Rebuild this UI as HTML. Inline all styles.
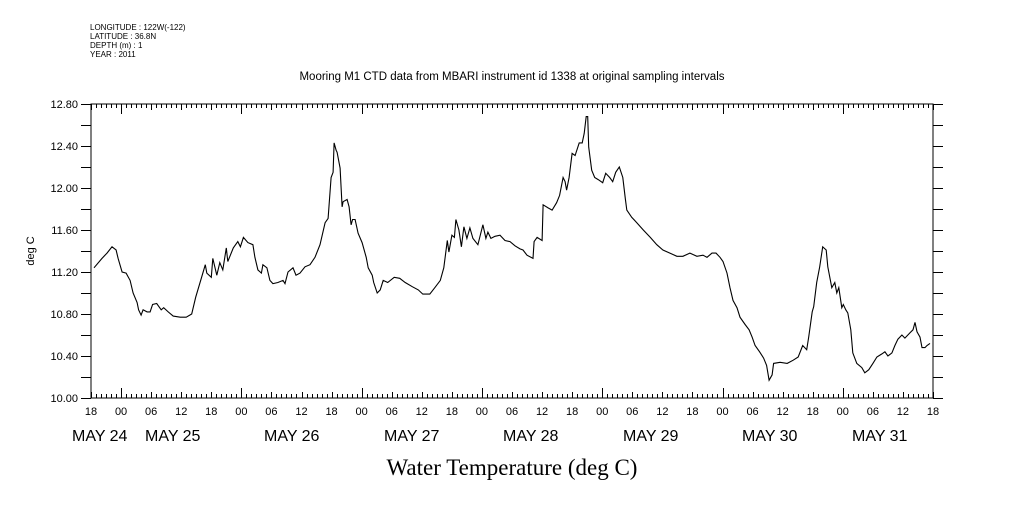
<!DOCTYPE html>
<html><head><meta charset="utf-8"><style>
html,body{margin:0;padding:0;background:#fff;}
svg text{font-family:"Liberation Sans",sans-serif;fill:#000;}
</style></head><body>
<svg id="chart" width="1009" height="504" viewBox="0 0 1009 504" xmlns="http://www.w3.org/2000/svg">
<g font-size="8">
<text x="90" y="30" font-size="8">LONGITUDE : 122W(-122)</text>
<text x="90" y="39" font-size="8">LATITUDE : 36.8N</text>
<text x="90" y="48" font-size="8">DEPTH (m) : 1</text>
<text x="90" y="57" font-size="8">YEAR : 2011</text>
</g>
<text x="512" y="80" font-size="11.5" text-anchor="middle">Mooring M1 CTD data from MBARI instrument id 1338 at original sampling intervals</text>
<text transform="translate(34,251) rotate(-90)" font-size="11" text-anchor="middle">deg C</text>
<text x="512" y="475" font-size="23" text-anchor="middle" style="font-family:'Liberation Serif',serif">Water Temperature (deg C)</text>
<rect x="91" y="104" width="842" height="294" fill="none" stroke="#000" stroke-width="1"/>
<g id="axes"></g>
<g id="series"></g>
</svg>
<script>
const hours=[0.6,2.2,3.2,4.2,5.0,5.4,6.2,7.0,7.8,8.4,9.2,9.5,10.0,10.4,11.2,11.8,12.3,13.1,14.0,14.5,15.4,16.4,17.8,19.0,20.1,20.9,22.0,22.8,23.1,24.0,24.3,25.1,25.7,26.3,27.0,27.3,28.4,29.3,29.8,30.4,31.3,32.3,32.7,33.3,34.0,34.3,35.1,35.7,36.3,37.3,38.3,38.7,39.3,40.3,40.9,41.7,42.7,43.7,44.7,45.7,46.7,47.3,47.9,48.3,48.5,48.9,49.1,49.7,50.1,50.3,51.1,51.5,51.9,52.2,52.7,53.3,54.1,54.9,55.3,56.1,56.4,57.1,57.7,58.3,59.2,60.5,61.6,62.7,64.1,65.3,66.2,67.6,68.6,69.7,70.4,71.1,71.4,72.0,72.5,72.8,73.4,73.9,74.4,75.0,75.6,76.2,77.2,78.2,78.8,79.2,79.8,80.6,81.6,82.6,83.6,84.6,85.6,86.2,87.0,88.2,88.4,89.0,90.0,90.2,91.2,92.0,92.9,93.5,94.2,94.6,94.9,95.4,96.0,96.6,97.4,98.0,98.4,98.8,99.1,99.3,99.9,100.5,101.2,102.1,102.7,103.5,104.1,104.7,105.4,106.1,106.6,106.9,107.9,108.9,110.2,111.6,112.9,114.1,115.5,116.9,118.1,119.5,120.9,122.1,122.9,123.9,124.7,125.5,126.1,126.9,127.5,128.1,128.9,129.5,130.5,131.3,131.9,132.5,133.4,134.2,134.8,135.3,135.9,136.2,137.5,138.9,140.1,141.1,142.0,142.8,143.2,143.9,144.2,144.8,145.4,146.0,146.7,147.0,147.8,148.4,148.8,149.2,149.8,150.1,150.6,151.0,151.6,152.0,152.8,153.8,154.4,155.2,156.0,156.8,157.8,158.4,159.0,159.8,160.4,161.0,161.8,162.4,163.4,164.0,164.4,164.8,165.4,165.8,166.4,166.8,167.4];
const temps=[11.24,11.33,11.38,11.44,11.41,11.33,11.20,11.19,11.12,11.00,10.91,10.84,10.79,10.84,10.82,10.82,10.89,10.90,10.84,10.86,10.82,10.78,10.77,10.77,10.80,10.96,11.14,11.27,11.19,11.15,11.33,11.17,11.29,11.22,11.43,11.30,11.43,11.49,11.44,11.53,11.48,11.46,11.34,11.22,11.19,11.27,11.24,11.12,11.09,11.10,11.12,11.09,11.20,11.24,11.17,11.19,11.25,11.27,11.34,11.46,11.67,11.71,12.10,12.15,12.43,12.36,12.34,12.19,11.82,11.87,11.89,11.82,11.65,11.70,11.70,11.57,11.48,11.34,11.24,11.17,11.10,11.00,11.03,11.12,11.10,11.15,11.14,11.10,11.06,11.03,10.99,10.99,11.05,11.12,11.24,11.50,11.39,11.55,11.53,11.70,11.60,11.44,11.63,11.52,11.62,11.52,11.46,11.65,11.52,11.58,11.52,11.54,11.55,11.50,11.49,11.45,11.42,11.41,11.36,11.33,11.49,11.53,11.50,11.84,11.81,11.79,11.86,11.93,12.10,12.06,11.98,12.10,12.33,12.31,12.43,12.43,12.52,12.68,12.68,12.39,12.17,12.10,12.08,12.05,12.14,12.10,12.06,12.15,12.20,12.10,11.90,11.79,11.72,11.67,11.60,11.53,11.46,11.41,11.38,11.35,11.35,11.38,11.35,11.36,11.34,11.38,11.38,11.34,11.30,11.19,11.05,10.93,10.86,10.77,10.70,10.65,10.58,10.50,10.44,10.38,10.31,10.17,10.22,10.33,10.34,10.33,10.36,10.39,10.50,10.46,10.58,10.82,10.87,11.10,11.25,11.44,11.41,11.25,11.05,11.10,11.00,11.05,10.86,10.89,10.84,10.81,10.65,10.43,10.33,10.29,10.24,10.27,10.33,10.39,10.42,10.44,10.40,10.43,10.50,10.56,10.60,10.57,10.62,10.65,10.72,10.63,10.58,10.48,10.48,10.50,10.52];
const yTickLabels=["10.00","10.40","10.80","11.20","11.60","12.00","12.40","12.80"];
const hourLabels=["18","00","06","12"];
const dayLabels=["MAY 24","MAY 25","MAY 26","MAY 27","MAY 28","MAY 29","MAY 30","MAY 31"];
const dayLabelX=[72,145,264,384,503,623,742,852];

const X0=91,X1=933,Y0=398,Y1=104,HMAX=168,TMIN=10,TMAX=12.8;
const sx=h=>X0+(h/HMAX)*(X1-X0);
const sy=t=>Y0-(t-TMIN)/(TMAX-TMIN)*(Y0-Y1);
const NS="http://www.w3.org/2000/svg";
const axes=document.getElementById('axes');
function mk(tag,attrs,parent){const e=document.createElementNS(NS,tag);for(const k in attrs)e.setAttribute(k,attrs[k]);parent.appendChild(e);return e;}
let d="";
for(let i=0;i<=14;i++){const y=Math.round(sy(TMIN+i*0.2))+0.5;d+=`M${X0-10},${y}H${X0}M${X1},${y}H${X1+10}`;}
for(let h=0;h<=HMAX;h++){const x=Math.round(sx(h))+0.5;const clock=(h+18)%24;const len=clock===0?10:(clock%6===0?6:4);d+=`M${x},${Y0}V${Y0-len}M${x},${Y1}V${Y1+len}`;}
const tk=mk('path',{d:d,stroke:'#000','stroke-width':1,fill:'none'},axes);


yTickLabels.forEach((lab,i)=>{const t=mk('text',{x:X0-13,y:sy(TMIN+i*0.4)+4,'font-size':11,'text-anchor':'end'},axes);t.textContent=lab;

});
for(let h=0,i=0;h<=HMAX;h+=6,i++){const t=mk('text',{x:sx(h),y:415,'font-size':11,'text-anchor':'middle'},axes);t.textContent=hourLabels[i%4];

}
dayLabels.forEach((lab,i)=>{const t=mk('text',{x:dayLabelX[i],y:441,'font-size':16},axes);t.textContent=lab;

});
const pts=hours.map((h,i)=>sx(h).toFixed(1)+","+sy(temps[i]).toFixed(1)).join(" ");
const line=mk('polyline',{points:pts,fill:'none',stroke:'#000','stroke-width':1.1},document.getElementById('series'));


</script>
</body></html>
